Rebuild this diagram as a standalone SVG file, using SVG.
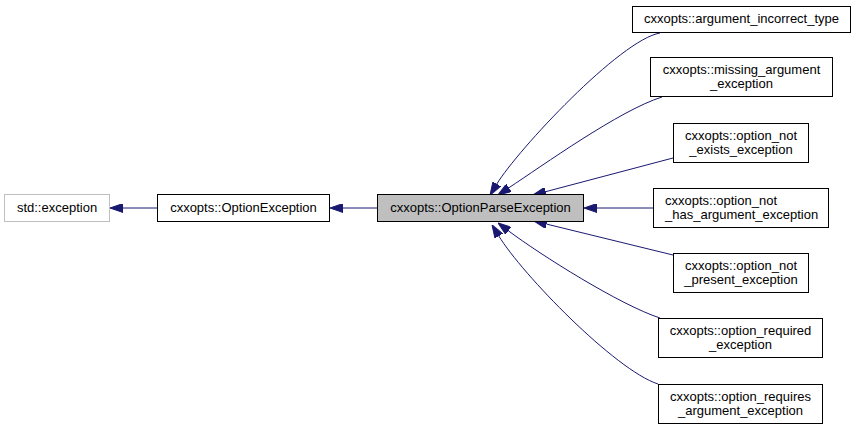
<svg xmlns="http://www.w3.org/2000/svg" width="856" height="430" viewBox="0 0 856 430">
<style>
.box{fill:#ffffff;stroke:#000000;stroke-width:1}
.ext{fill:#ffffff;stroke:#bfbfbf;stroke-width:1}
.cur{fill:#bfbfbf;stroke:#000000;stroke-width:1}
text{font-family:"Liberation Sans",Arial,sans-serif;font-size:13px;fill:#000000}
.c{text-anchor:middle}
.edge{fill:none;stroke:#191970;stroke-width:1;marker-end:url(#arr)}
</style>
<defs>
<marker id="arr" viewBox="0 0 13 9" refX="0" refY="4.5" markerWidth="13" markerHeight="9" markerUnits="userSpaceOnUse" orient="auto">
<path d="M0,0 L13,4.5 L0,9 Z" fill="#191970" stroke="#191970" stroke-width="1"/>
</marker>
</defs>
<rect width="856" height="430" fill="#ffffff"/>
<g id="connectors">
<path class="edge" d="M157,208 L123,208"/>
<path class="edge" d="M377,208 L343,208"/>
<path class="edge" d="M660,33 C620,40 517.6,150 496.8,184"/>
<path class="edge" d="M662,97 C620,110 542,166 508.8,187.8"/>
<path class="edge" d="M673,158 L545.6,191.7"/>
<path class="edge" d="M654,208 L597,208"/>
<path class="edge" d="M673,255 L546.6,224.1"/>
<path class="edge" d="M660,318 C620,305 540.4,254.8 508.4,230.8"/>
<path class="edge" d="M658,384 C615,370 522,274 498.8,236"/>
</g>
<g id="std_exception">
<rect class="ext" x="4.5" y="194.5" width="105" height="27"/>
<text class="c" x="57" y="212">std::exception</text>
</g>
<g id="OptionException">
<rect class="box" x="157.5" y="194.5" width="172" height="27"/>
<text class="c" x="243.5" y="212">cxxopts::OptionException</text>
</g>
<g id="OptionParseException">
<rect class="cur" x="377.5" y="194.5" width="206" height="27"/>
<text class="c" x="480.5" y="212">cxxopts::OptionParseException</text>
</g>
<g id="argument_incorrect_type">
<rect class="box" x="632.5" y="6.5" width="218" height="26"/>
<text class="c" x="741.5" y="23">cxxopts::argument_incorrect_type</text>
</g>
<g id="missing_argument_exception">
<rect class="box" x="650.5" y="57.5" width="182" height="39"/>
<text class="c" x="741.5" y="74">cxxopts::missing_argument</text>
<text class="c" x="741.5" y="88">_exception</text>
</g>
<g id="option_not_exists_exception">
<rect class="box" x="673.5" y="123.5" width="135" height="39"/>
<text class="c" x="741" y="140">cxxopts::option_not</text>
<text class="c" x="741" y="154">_exists_exception</text>
</g>
<g id="option_not_has_argument_exception">
<rect class="box" x="653.5" y="188.5" width="175" height="39"/>
<text x="665" y="205">cxxopts::option_not</text>
<text x="665" y="219">_has_argument_exception</text>
</g>
<g id="option_not_present_exception">
<rect class="box" x="673.5" y="253.5" width="135" height="39"/>
<text class="c" x="741" y="270">cxxopts::option_not</text>
<text class="c" x="741" y="284">_present_exception</text>
</g>
<g id="option_required_exception">
<rect class="box" x="658.5" y="318.5" width="164" height="39"/>
<text class="c" x="740.5" y="335">cxxopts::option_required</text>
<text class="c" x="740.5" y="349">_exception</text>
</g>
<g id="option_requires_argument_exception">
<rect class="box" x="658.5" y="384.5" width="164" height="39"/>
<text class="c" x="740.5" y="401">cxxopts::option_requires</text>
<text class="c" x="740.5" y="415">_argument_exception</text>
</g>
</svg>
